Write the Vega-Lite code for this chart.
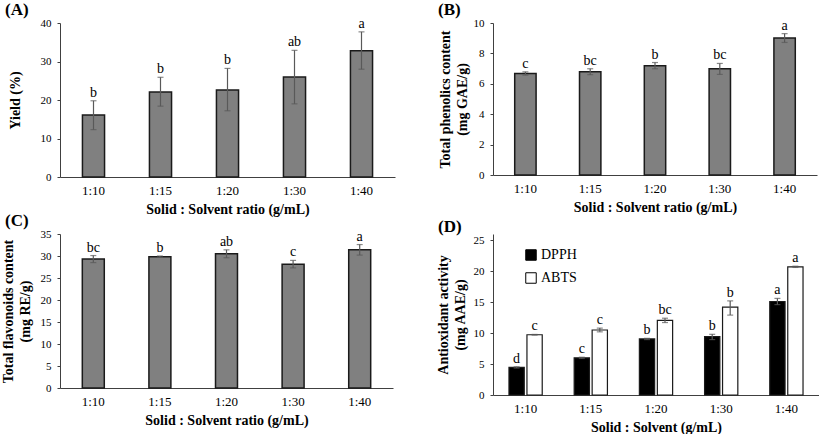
{
  "$schema": "https://vega.github.io/schema/vega-lite/v6.json",
  "background": "white",
  "padding": {"left": 0, "top": 0, "right": 0, "bottom": 0},
  "bounds": "flush",
  "columns": 2,
  "spacing": {"row": 57, "column": 98},
  "datasets": {
    "A": [
      {"ratio": "1:10", "value": 16.1, "lo": 12.3, "hi": 19.8, "letter": "b"},
      {"ratio": "1:15", "value": 22.1, "lo": 18.4, "hi": 25.9, "letter": "b"},
      {"ratio": "1:20", "value": 22.6, "lo": 17.2, "hi": 28.2, "letter": "b"},
      {"ratio": "1:30", "value": 26.0, "lo": 19.0, "hi": 32.9, "letter": "ab"},
      {"ratio": "1:40", "value": 32.8, "lo": 28.0, "hi": 37.7, "letter": "a"}
    ],
    "B": [
      {"ratio": "1:10", "value": 6.68, "lo": 6.57, "hi": 6.79, "letter": "c"},
      {"ratio": "1:15", "value": 6.79, "lo": 6.6, "hi": 6.99, "letter": "bc"},
      {"ratio": "1:20", "value": 7.19, "lo": 6.99, "hi": 7.4, "letter": "b"},
      {"ratio": "1:30", "value": 6.99, "lo": 6.62, "hi": 7.34, "letter": "bc"},
      {"ratio": "1:40", "value": 9.01, "lo": 8.72, "hi": 9.3, "letter": "a"}
    ],
    "C": [
      {"ratio": "1:10", "value": 29.3, "lo": 28.5, "hi": 30.1, "letter": "bc"},
      {"ratio": "1:15", "value": 29.85, "lo": 29.7, "hi": 30.0, "letter": "b"},
      {"ratio": "1:20", "value": 30.5, "lo": 29.6, "hi": 31.4, "letter": "ab"},
      {"ratio": "1:30", "value": 28.1, "lo": 27.3, "hi": 29.0, "letter": "c"},
      {"ratio": "1:40", "value": 31.4, "lo": 30.2, "hi": 32.6, "letter": "a"}
    ],
    "D": [
      {"ratio": "1:10", "assay": "DPPH", "value": 4.45, "lo": 4.35, "hi": 4.55, "letter": "d"},
      {"ratio": "1:15", "assay": "DPPH", "value": 6.0, "lo": 5.9, "hi": 6.1, "letter": "c"},
      {"ratio": "1:20", "assay": "DPPH", "value": 9.05, "lo": 8.95, "hi": 9.15, "letter": "b"},
      {"ratio": "1:30", "assay": "DPPH", "value": 9.42, "lo": 8.95, "hi": 9.8, "letter": "b"},
      {"ratio": "1:40", "assay": "DPPH", "value": 15.1, "lo": 14.6, "hi": 15.6, "letter": "a"},
      {"ratio": "1:10", "assay": "ABTS", "value": 9.73, "lo": 9.68, "hi": 9.78, "letter": "c"},
      {"ratio": "1:15", "assay": "ABTS", "value": 10.5, "lo": 10.2, "hi": 10.8, "letter": "c"},
      {"ratio": "1:20", "assay": "ABTS", "value": 12.06, "lo": 11.7, "hi": 12.4, "letter": "bc"},
      {"ratio": "1:30", "assay": "ABTS", "value": 14.2, "lo": 12.9, "hi": 15.2, "letter": "b"},
      {"ratio": "1:40", "assay": "ABTS", "value": 20.7, "lo": 20.6, "hi": 20.8, "letter": "a"}
    ]
  },
  "concat": [
    {
      "width": 335, "height": 154,
      "title": {"text": "(A)", "anchor": "start", "frame": "group", "dx": -55, "offset": -2},
      "data": {"name": "A"},
      "encoding": {"x": {"field": "ratio", "type": "nominal", "sort": null, "scale": {"paddingInner": 0.67, "paddingOuter": 0.335}, "axis": {"title": "Solid : Solvent ratio (g/mL)"}}},
      "layer": [
        {"mark": {"type": "bar", "fill": "#808080", "stroke": "#1a1a1a", "strokeWidth": 1.5},
         "encoding": {"y": {"field": "value", "type": "quantitative", "scale": {"domain": [0, 40]}, "axis": {"values": [0, 10, 20, 30, 40], "tickCount": 5, "labelOverlap": false, "title": "Yield (%)", "titlePadding": 18}}}},
        {"mark": {"type": "rule", "color": "#595959", "strokeWidth": 1.2}, "encoding": {"y": {"field": "lo", "type": "quantitative", "axis": {"values": [0, 10, 20, 30, 40], "tickCount": 5, "labelOverlap": false, "title": "Yield (%)", "titlePadding": 18}}, "y2": {"field": "hi"}}},
        {"mark": {"type": "tick", "color": "#595959", "size": 6, "thickness": 1.2}, "encoding": {"y": {"field": "lo", "type": "quantitative", "axis": {"values": [0, 10, 20, 30, 40], "tickCount": 5, "labelOverlap": false, "title": "Yield (%)", "titlePadding": 18}}}},
        {"mark": {"type": "tick", "color": "#595959", "size": 6, "thickness": 1.2}, "encoding": {"y": {"field": "hi", "type": "quantitative", "axis": {"values": [0, 10, 20, 30, 40], "tickCount": 5, "labelOverlap": false, "title": "Yield (%)", "titlePadding": 18}}}},
        {"mark": {"type": "text", "dy": -4, "baseline": "alphabetic", "fontSize": 14, "font": "Liberation Serif", "color": "#000000"}, "encoding": {"y": {"field": "hi", "type": "quantitative", "axis": {"values": [0, 10, 20, 30, 40], "tickCount": 5, "labelOverlap": false, "title": "Yield (%)", "titlePadding": 18}}, "text": {"field": "letter"}}}
      ]
    },
    {
      "width": 324, "height": 152,
      "title": {"text": "(B)", "anchor": "start", "frame": "group", "dx": -55, "offset": -2},
      "data": {"name": "B"},
      "encoding": {"x": {"field": "ratio", "type": "nominal", "sort": null, "scale": {"paddingInner": 0.67, "paddingOuter": 0.335}, "axis": {"title": "Solid : Solvent ratio (g/mL)"}}},
      "layer": [
        {"mark": {"type": "bar", "fill": "#808080", "stroke": "#1a1a1a", "strokeWidth": 1.5},
         "encoding": {"y": {"field": "value", "type": "quantitative", "scale": {"domain": [0, 10]}, "axis": {"values": [0, 2, 4, 6, 8, 10], "tickCount": 6, "labelOverlap": false, "title": ["Total phenolics content", "(mg GAE/g)"], "titlePadding": 4}}}},
        {"mark": {"type": "rule", "color": "#595959", "strokeWidth": 1.2}, "encoding": {"y": {"field": "lo", "type": "quantitative", "axis": {"values": [0, 2, 4, 6, 8, 10], "tickCount": 6, "labelOverlap": false, "title": ["Total phenolics content", "(mg GAE/g)"], "titlePadding": 4}}, "y2": {"field": "hi"}}},
        {"mark": {"type": "tick", "color": "#595959", "size": 6, "thickness": 1.2}, "encoding": {"y": {"field": "lo", "type": "quantitative", "axis": {"values": [0, 2, 4, 6, 8, 10], "tickCount": 6, "labelOverlap": false, "title": ["Total phenolics content", "(mg GAE/g)"], "titlePadding": 4}}}},
        {"mark": {"type": "tick", "color": "#595959", "size": 6, "thickness": 1.2}, "encoding": {"y": {"field": "hi", "type": "quantitative", "axis": {"values": [0, 2, 4, 6, 8, 10], "tickCount": 6, "labelOverlap": false, "title": ["Total phenolics content", "(mg GAE/g)"], "titlePadding": 4}}}},
        {"mark": {"type": "text", "dy": -4, "baseline": "alphabetic", "fontSize": 14, "font": "Liberation Serif", "color": "#000000"}, "encoding": {"y": {"field": "hi", "type": "quantitative", "axis": {"values": [0, 2, 4, 6, 8, 10], "tickCount": 6, "labelOverlap": false, "title": ["Total phenolics content", "(mg GAE/g)"], "titlePadding": 4}}, "text": {"field": "letter"}}}
      ]
    },
    {
      "width": 333, "height": 154,
      "title": {"text": "(C)", "anchor": "start", "frame": "group", "dx": -55, "offset": -2},
      "data": {"name": "C"},
      "encoding": {"x": {"field": "ratio", "type": "nominal", "sort": null, "scale": {"paddingInner": 0.67, "paddingOuter": 0.335}, "axis": {"title": "Solid : Solvent ratio (g/mL)"}}},
      "layer": [
        {"mark": {"type": "bar", "fill": "#808080", "stroke": "#1a1a1a", "strokeWidth": 1.5},
         "encoding": {"y": {"field": "value", "type": "quantitative", "scale": {"domain": [0, 35]}, "axis": {"values": [0, 5, 10, 15, 20, 25, 30, 35], "tickCount": 8, "labelOverlap": false, "title": ["Total flavonoids content", "(mg RE/g)"], "titlePadding": 8}}}},
        {"mark": {"type": "rule", "color": "#595959", "strokeWidth": 1.2}, "encoding": {"y": {"field": "lo", "type": "quantitative", "axis": {"values": [0, 5, 10, 15, 20, 25, 30, 35], "tickCount": 8, "labelOverlap": false, "title": ["Total flavonoids content", "(mg RE/g)"], "titlePadding": 8}}, "y2": {"field": "hi"}}},
        {"mark": {"type": "tick", "color": "#595959", "size": 6, "thickness": 1.2}, "encoding": {"y": {"field": "lo", "type": "quantitative", "axis": {"values": [0, 5, 10, 15, 20, 25, 30, 35], "tickCount": 8, "labelOverlap": false, "title": ["Total flavonoids content", "(mg RE/g)"], "titlePadding": 8}}}},
        {"mark": {"type": "tick", "color": "#595959", "size": 6, "thickness": 1.2}, "encoding": {"y": {"field": "hi", "type": "quantitative", "axis": {"values": [0, 5, 10, 15, 20, 25, 30, 35], "tickCount": 8, "labelOverlap": false, "title": ["Total flavonoids content", "(mg RE/g)"], "titlePadding": 8}}}},
        {"mark": {"type": "text", "dy": -4, "baseline": "alphabetic", "fontSize": 14, "font": "Liberation Serif", "color": "#000000"}, "encoding": {"y": {"field": "hi", "type": "quantitative", "axis": {"values": [0, 5, 10, 15, 20, 25, 30, 35], "tickCount": 8, "labelOverlap": false, "title": ["Total flavonoids content", "(mg RE/g)"], "titlePadding": 8}}, "text": {"field": "letter"}}}
      ]
    },
    {
      "width": 326, "height": 161,
      "title": {"text": "(D)", "anchor": "start", "frame": "group", "dx": -55, "offset": -2},
      "data": {"name": "D"},
      "encoding": {
        "x": {"field": "ratio", "type": "nominal", "sort": null, "scale": {"paddingInner": 0.49, "paddingOuter": 0.245}, "axis": {"title": "Solid : Solvent (g/mL)"}},
        "xOffset": {"field": "assay", "type": "nominal", "sort": ["DPPH", "ABTS"], "scale": {"paddingInner": 0.15}}
      },
      "layer": [
        {"mark": {"type": "bar", "stroke": "#1a1a1a", "strokeWidth": 1.2},
         "encoding": {
           "y": {"field": "value", "type": "quantitative", "scale": {"domain": [0, 25]}, "axis": {"values": [0, 5, 10, 15, 20, 25], "tickCount": 6, "labelOverlap": false, "title": ["Antioxidant activity", "(mg AAE/g)"], "titlePadding": 6}},
           "color": {"field": "assay", "type": "nominal", "sort": ["DPPH", "ABTS"], "scale": {"domain": ["DPPH", "ABTS"], "range": ["#000000", "#ffffff"]},
             "legend": {"orient": "none", "legendX": 464, "legendY": 225, "title": null, "symbolType": "square", "symbolSize": 110, "symbolStrokeColor": "#000000", "symbolStrokeWidth": 1, "labelFontSize": 14, "labelFont": "Liberation Serif", "labelColor": "#000000", "rowPadding": 7, "labelOffset": 3}}
         }},
        {"mark": {"type": "rule", "color": "#595959", "strokeWidth": 1.2}, "encoding": {"y": {"field": "lo", "type": "quantitative", "axis": {"values": [0, 5, 10, 15, 20, 25], "tickCount": 6, "labelOverlap": false, "title": ["Antioxidant activity", "(mg AAE/g)"], "titlePadding": 6}}, "y2": {"field": "hi"}}},
        {"mark": {"type": "tick", "color": "#595959", "size": 6, "thickness": 1.2}, "encoding": {"y": {"field": "lo", "type": "quantitative", "axis": {"values": [0, 5, 10, 15, 20, 25], "tickCount": 6, "labelOverlap": false, "title": ["Antioxidant activity", "(mg AAE/g)"], "titlePadding": 6}}}},
        {"mark": {"type": "tick", "color": "#595959", "size": 6, "thickness": 1.2}, "encoding": {"y": {"field": "hi", "type": "quantitative", "axis": {"values": [0, 5, 10, 15, 20, 25], "tickCount": 6, "labelOverlap": false, "title": ["Antioxidant activity", "(mg AAE/g)"], "titlePadding": 6}}}},
        {"mark": {"type": "text", "dy": -4, "baseline": "alphabetic", "fontSize": 14, "font": "Liberation Serif", "color": "#000000"}, "encoding": {"y": {"field": "hi", "type": "quantitative", "axis": {"values": [0, 5, 10, 15, 20, 25], "tickCount": 6, "labelOverlap": false, "title": ["Antioxidant activity", "(mg AAE/g)"], "titlePadding": 6}}, "text": {"field": "letter"}}}
      ]
    }
  ],
  "config": {
    "font": "Liberation Serif",
    "view": {"stroke": null},
    "title": {"font": "Liberation Serif", "fontSize": 17, "fontWeight": "bold", "color": "#000000"},
    "axis": {"grid": false, "domainColor": "#404040", "tickColor": "#404040", "labelColor": "#000000", "titleColor": "#000000", "labelFont": "Liberation Serif", "titleFont": "Liberation Serif", "titleFontWeight": "bold", "titleFontSize": 14, "labelOverlap": false},
    "axisX": {"ticks": false, "labelAngle": 0, "labelFontSize": 13, "labelPadding": 7, "titlePadding": 5},
    "axisY": {"tickSize": 3, "labelFontSize": 11, "labelPadding": 6, "titleLineHeight": 17, "labelOverlap": false}
  }
}
